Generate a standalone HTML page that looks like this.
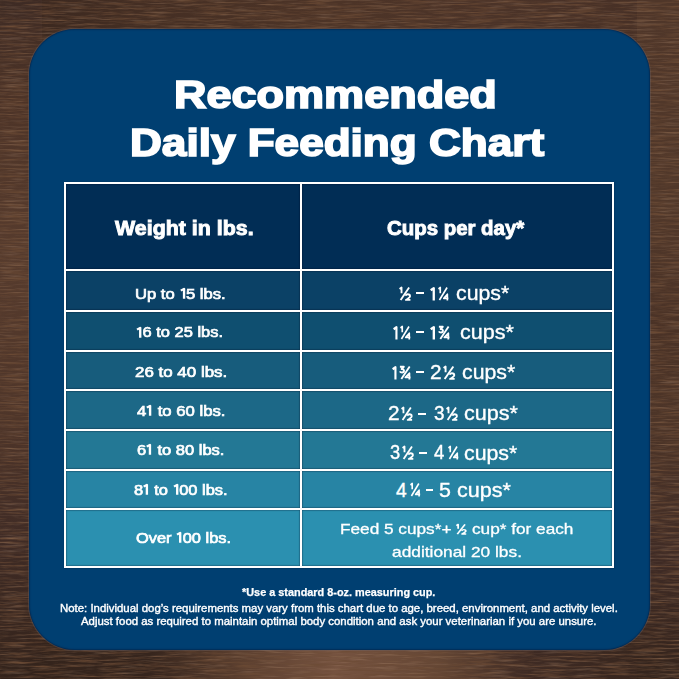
<!DOCTYPE html>
<html>
<head>
<meta charset="utf-8">
<style>
html,body{margin:0;padding:0;}
body{width:679px;height:679px;overflow:hidden;position:relative;font-family:"Liberation Sans",sans-serif;color:#fff;background:#56392a;}
#wood{position:absolute;left:0;top:0;width:679px;height:679px;background:#54392b;}
.ws{position:absolute;}
#wt{left:0;top:0;width:679px;height:42px;background:linear-gradient(90deg,#38261e 0px,#442e23 140px,#4d3427 330px,#4b3328 500px,#462f25 679px);}
#wb{left:0;top:637px;width:679px;height:42px;background:linear-gradient(90deg,#33231b 0px,#36251d 150px,#5a3e2e 240px,#765340 335px,#644634 440px,#3f2b24 525px,#34241c 679px);}
#wl{left:0;top:0;width:42px;height:679px;background:linear-gradient(180deg,#3e2b24 0px,#4c3327 100px,#563b2d 250px,#4e3529 420px,#3f2b25 540px,#33231b 679px);}
#wr{left:637px;top:0;width:42px;height:679px;background:linear-gradient(180deg,#4f3629 0px,#51382a 200px,#4a3226 330px,#4d3528 420px,#3f2b25 560px,#34241c 679px);}
#grain{position:absolute;left:0;top:0;}
#card{position:absolute;left:29px;top:29px;width:620.6px;height:620.6px;border-radius:46px;background:#003f71;box-shadow:inset 0 0 1.5px 0.5px rgba(0,10,40,0.55),0 0 0 1px rgba(110,100,105,0.35);}
.t{position:absolute;white-space:pre;line-height:1;transform-origin:0 0;color:#fff;}
#tbl{position:absolute;left:64px;top:182px;width:550px;height:386px;background:#fff;box-shadow:0 0 1.5px 0.5px rgba(0,8,30,0.45);}
.c{position:absolute;box-shadow:inset 0 0 1px 0.5px rgba(0,8,30,0.45);}
.s{position:absolute;overflow:visible;}

</style>
</head>
<body>
<div id="wood"><div class="ws" id="wt"></div><div class="ws" id="wb"></div><div class="ws" id="wl"></div><div class="ws" id="wr"></div></div>
<svg id="grain" width="679" height="679">
 <filter id="wf" x="0" y="0" width="100%" height="100%" filterUnits="userSpaceOnUse">
  <feTurbulence type="fractalNoise" baseFrequency="0.03 0.5" numOctaves="4" seed="7" result="n"/>
  <feColorMatrix in="n" type="matrix" values="0 0 0 0 0.15  0 0 0 0 0.07  0 0 0 0 0.035  -2.2 0 0 0 1.22"/>
 </filter>
 <filter id="wf2" x="0" y="0" width="100%" height="100%" filterUnits="userSpaceOnUse">
  <feTurbulence type="fractalNoise" baseFrequency="0.035 0.55" numOctaves="3" seed="21" result="n"/>
  <feColorMatrix in="n" type="matrix" values="0 0 0 0 0.52  0 0 0 0 0.33  0 0 0 0 0.21  0.7 0 0 0 -0.36"/>
 </filter>
 <rect width="679" height="679" filter="url(#wf)"/>
 <rect width="679" height="679" filter="url(#wf2)"/>
</svg>
<div id="card"></div>
<div id="tbl">
 <div class="c" style="left:2px;top:2px;width:234px;height:85px;background:#012d55"></div>
 <div class="c" style="left:238px;top:2px;width:310px;height:85px;background:#012d55"></div>
 <div class="c" style="left:2px;top:89px;width:234px;height:39px;background:#0b4166"></div>
 <div class="c" style="left:238px;top:89px;width:310px;height:39px;background:#0b4166"></div>
 <div class="c" style="left:2px;top:130px;width:234px;height:38px;background:#0f4f70"></div>
 <div class="c" style="left:238px;top:130px;width:310px;height:38px;background:#0f4f70"></div>
 <div class="c" style="left:2px;top:170px;width:234px;height:37px;background:#175c7c"></div>
 <div class="c" style="left:238px;top:170px;width:310px;height:37px;background:#175c7c"></div>
 <div class="c" style="left:2px;top:209px;width:234px;height:38px;background:#1c6887"></div>
 <div class="c" style="left:238px;top:209px;width:310px;height:38px;background:#1c6887"></div>
 <div class="c" style="left:2px;top:249px;width:234px;height:38px;background:#237895"></div>
 <div class="c" style="left:238px;top:249px;width:310px;height:38px;background:#237895"></div>
 <div class="c" style="left:2px;top:289px;width:234px;height:37px;background:#2784a4"></div>
 <div class="c" style="left:238px;top:289px;width:310px;height:37px;background:#2784a4"></div>
 <div class="c" style="left:2px;top:328px;width:234px;height:56px;background:#2b90b0"></div>
 <div class="c" style="left:238px;top:328px;width:310px;height:56px;background:#2b90b0"></div>
</div>

<div class="t" style="left:174.04px;top:76.43px;transform:scaleX(1.1789);font-weight:bold;font-size:38.2px;-webkit-text-stroke:1.7px #fff;">Recommended</div>
<div class="t" style="left:130.39px;top:124.33px;transform:scaleX(1.1549);font-weight:bold;font-size:38.2px;-webkit-text-stroke:1.7px #fff;">Daily Feeding Chart</div>
<div class="t" style="left:114.89px;top:219.14px;transform:scaleX(1.0913);font-weight:bold;font-size:19.6px;-webkit-text-stroke:0.9px #fff;">Weight in lbs.</div>
<div class="t" style="left:386.50px;top:219.24px;transform:scaleX(1.0414);font-weight:bold;font-size:19.6px;-webkit-text-stroke:0.9px #fff;">Cups per day*</div>
<div class="t" style="left:135.41px;top:285.78px;transform:scaleX(1.0926);font-weight:normal;font-size:15.2px;-webkit-text-stroke:0.7px #fff;">Up to <svg style="display:inline-block;width:0.40em;height:0.70em;vertical-align:0;overflow:visible" viewBox="0 0 5.6 10.6" preserveAspectRatio="none"><path d="M0.9,2.6 L3.6,0.75 L3.6,10.6" fill="none" stroke="#fff" stroke-width="2.0" stroke-linejoin="round"/></svg>5 lbs.</div>
<div class="t" style="left:136.42px;top:324.18px;transform:scaleX(1.0823);font-weight:normal;font-size:15.2px;-webkit-text-stroke:0.7px #fff;"><svg style="display:inline-block;width:0.40em;height:0.70em;vertical-align:0;overflow:visible" viewBox="0 0 5.6 10.6" preserveAspectRatio="none"><path d="M0.9,2.6 L3.6,0.75 L3.6,10.6" fill="none" stroke="#fff" stroke-width="2.0" stroke-linejoin="round"/></svg>6 to 25 lbs.</div>
<div class="t" style="left:135.00px;top:363.88px;transform:scaleX(1.1146);font-weight:normal;font-size:15.2px;-webkit-text-stroke:0.7px #fff;">26 to 40 lbs.</div>
<div class="t" style="left:137.00px;top:402.68px;transform:scaleX(1.1000);font-weight:normal;font-size:15.2px;-webkit-text-stroke:0.7px #fff;">4<svg style="display:inline-block;width:0.40em;height:0.70em;vertical-align:0;overflow:visible" viewBox="0 0 5.6 10.6" preserveAspectRatio="none"><path d="M0.9,2.6 L3.6,0.75 L3.6,10.6" fill="none" stroke="#fff" stroke-width="2.0" stroke-linejoin="round"/></svg> to 60 lbs.</div>
<div class="t" style="left:137.00px;top:442.08px;transform:scaleX(1.0875);font-weight:normal;font-size:15.2px;-webkit-text-stroke:0.7px #fff;">6<svg style="display:inline-block;width:0.40em;height:0.70em;vertical-align:0;overflow:visible" viewBox="0 0 5.6 10.6" preserveAspectRatio="none"><path d="M0.9,2.6 L3.6,0.75 L3.6,10.6" fill="none" stroke="#fff" stroke-width="2.0" stroke-linejoin="round"/></svg> to 80 lbs.</div>
<div class="t" style="left:134.20px;top:481.98px;transform:scaleX(1.0826);font-weight:normal;font-size:15.2px;-webkit-text-stroke:0.7px #fff;">8<svg style="display:inline-block;width:0.40em;height:0.70em;vertical-align:0;overflow:visible" viewBox="0 0 5.6 10.6" preserveAspectRatio="none"><path d="M0.9,2.6 L3.6,0.75 L3.6,10.6" fill="none" stroke="#fff" stroke-width="2.0" stroke-linejoin="round"/></svg> to <svg style="display:inline-block;width:0.40em;height:0.70em;vertical-align:0;overflow:visible" viewBox="0 0 5.6 10.6" preserveAspectRatio="none"><path d="M0.9,2.6 L3.6,0.75 L3.6,10.6" fill="none" stroke="#fff" stroke-width="2.0" stroke-linejoin="round"/></svg>00 lbs.</div>
<div class="t" style="left:136.00px;top:530.08px;transform:scaleX(1.0805);font-weight:normal;font-size:15.2px;-webkit-text-stroke:0.7px #fff;">Over <svg style="display:inline-block;width:0.40em;height:0.70em;vertical-align:0;overflow:visible" viewBox="0 0 5.6 10.6" preserveAspectRatio="none"><path d="M0.9,2.6 L3.6,0.75 L3.6,10.6" fill="none" stroke="#fff" stroke-width="2.0" stroke-linejoin="round"/></svg>00 lbs.</div>
<div class="t" style="left:339.55px;top:521.35px;transform:scaleX(1.1470);font-weight:normal;font-size:15.0px;-webkit-text-stroke:0.3px #fff;">Feed 5 cups*+ <svg style="display:inline-block;width:0.64em;height:0.70em;vertical-align:0;overflow:visible" viewBox="0 0 12 13.6" preserveAspectRatio="none"><g fill="none" stroke="#fff" stroke-width="1.9" stroke-linejoin="round"><path d="M0.55,2.0 L2.5,0.6 L2.5,6.3"/><path d="M10.0,0.6 L1.6,13.0"/><path d="M6.5,8.8 C6.7,7.8 7.5,7.3 8.6,7.3 C9.9,7.3 10.9,8.0 10.9,9.2 C10.9,10.3 10.0,11.0 6.8,12.95 L11.3,12.95"/></g></svg> cup* for each</div>
<div class="t" style="left:391.90px;top:544.45px;transform:scaleX(1.1545);font-weight:normal;font-size:15.0px;-webkit-text-stroke:0.3px #fff;">additional 20 lbs.</div>
<div class="t" style="left:242.30px;top:586.89px;transform:scaleX(0.9627);font-weight:bold;font-size:11.3px;-webkit-text-stroke:0.25px #fff;">*Use a standard 8-oz. measuring cup.</div>
<div class="t" style="left:60.02px;top:601.54px;transform:scaleX(0.9829);font-weight:normal;font-size:11.6px;-webkit-text-stroke:0.4px #fff;">Note: Individual dog’s requirements may vary from this chart due to age, breed, environment, and activity level.</div>
<div class="t" style="left:81.40px;top:615.34px;transform:scaleX(0.9839);font-weight:normal;font-size:11.6px;-webkit-text-stroke:0.4px #fff;">Adjust food as required to maintain optimal body condition and ask your veterinarian if you are unsure.</div>
<svg class="s" style="left:399.05px;top:286.70px;" width="12.15" height="13.6" viewBox="0 0 12.0 13.6" preserveAspectRatio="none"><g fill="none" stroke="#fff" stroke-width="1.85" stroke-linejoin="round"><path d="M0.55,2.0 L2.5,0.6 L2.5,6.3"/><path d="M10.0,0.6 L1.6,13.0"/><path d="M6.5,8.8 C6.7,7.8 7.5,7.3 8.6,7.3 C9.9,7.3 10.9,8.0 10.9,9.2 C10.9,10.3 10.0,11.0 6.8,12.95 L11.3,12.95"/></g></svg>
<div class="s" style="left:415.90px;top:292.30px;width:8.00px;height:2.1px;background:#fff"></div>
<svg class="s" style="left:430.30px;top:286.70px;" width="5.00" height="13.6" viewBox="0 0 5.0 13.6" preserveAspectRatio="none"><g fill="none" stroke="#fff" stroke-width="2.3" stroke-linejoin="round"><path d="M0.7,3.3 L3.75,1.1 L3.75,13.6"/></g></svg>
<svg class="s" style="left:438.00px;top:286.70px;" width="10.90" height="13.6" viewBox="0 0 12.0 13.6" preserveAspectRatio="none"><g fill="none" stroke="#fff" stroke-width="1.85" stroke-linejoin="round"><path d="M0.55,2.0 L2.5,0.6 L2.5,6.3"/><path d="M10.0,0.6 L1.6,13.0"/><path d="M10.3,13.6 L10.3,7.3 L6.4,11.4 L11.5,11.4"/></g></svg>
<div class="t" style="left:455.50px;top:283.05px;transform:scaleX(1.0490);font-weight:normal;font-size:20.3px;-webkit-text-stroke:0.35px #fff;">cups*</div>
<svg class="s" style="left:392.90px;top:325.80px;" width="4.60" height="13.6" viewBox="0 0 5.0 13.6" preserveAspectRatio="none"><g fill="none" stroke="#fff" stroke-width="2.3" stroke-linejoin="round"><path d="M0.7,3.3 L3.75,1.1 L3.75,13.6"/></g></svg>
<svg class="s" style="left:400.20px;top:325.80px;" width="10.80" height="13.6" viewBox="0 0 12.0 13.6" preserveAspectRatio="none"><g fill="none" stroke="#fff" stroke-width="1.85" stroke-linejoin="round"><path d="M0.55,2.0 L2.5,0.6 L2.5,6.3"/><path d="M10.0,0.6 L1.6,13.0"/><path d="M10.3,13.6 L10.3,7.3 L6.4,11.4 L11.5,11.4"/></g></svg>
<div class="s" style="left:415.90px;top:331.40px;width:8.00px;height:2.1px;background:#fff"></div>
<svg class="s" style="left:430.00px;top:325.80px;" width="5.10" height="13.6" viewBox="0 0 5.0 13.6" preserveAspectRatio="none"><g fill="none" stroke="#fff" stroke-width="2.3" stroke-linejoin="round"><path d="M0.7,3.3 L3.75,1.1 L3.75,13.6"/></g></svg>
<svg class="s" style="left:437.90px;top:325.80px;" width="12.00" height="13.6" viewBox="0 0 12.0 13.6" preserveAspectRatio="none"><g fill="none" stroke="#fff" stroke-width="1.85" stroke-linejoin="round"><path d="M0.9,0.75 L4.8,0.75 L2.6,3.0 C4.0,2.9 5.0,3.7 5.0,4.8 C5.0,5.8 4.1,6.5 3.0,6.5 C2.0,6.5 1.2,6.1 0.8,5.4"/><path d="M10.6,0.6 L2.3,13.0"/><path d="M10.3,13.6 L10.3,7.3 L6.4,11.4 L11.5,11.4"/></g></svg>
<div class="t" style="left:460.30px;top:322.14px;transform:scaleX(1.0627);font-weight:normal;font-size:20.3px;-webkit-text-stroke:0.35px #fff;">cups*</div>
<svg class="s" style="left:392.00px;top:365.80px;" width="4.60" height="13.6" viewBox="0 0 5.0 13.6" preserveAspectRatio="none"><g fill="none" stroke="#fff" stroke-width="2.3" stroke-linejoin="round"><path d="M0.7,3.3 L3.75,1.1 L3.75,13.6"/></g></svg>
<svg class="s" style="left:399.30px;top:365.80px;" width="12.10" height="13.6" viewBox="0 0 12.0 13.6" preserveAspectRatio="none"><g fill="none" stroke="#fff" stroke-width="1.85" stroke-linejoin="round"><path d="M0.9,0.75 L4.8,0.75 L2.6,3.0 C4.0,2.9 5.0,3.7 5.0,4.8 C5.0,5.8 4.1,6.5 3.0,6.5 C2.0,6.5 1.2,6.1 0.8,5.4"/><path d="M10.6,0.6 L2.3,13.0"/><path d="M10.3,13.6 L10.3,7.3 L6.4,11.4 L11.5,11.4"/></g></svg>
<div class="s" style="left:415.90px;top:371.40px;width:8.00px;height:2.1px;background:#fff"></div>
<div class="t" style="left:430.02px;top:363.00px;transform:scaleX(1.0778);font-weight:normal;font-size:19.3px;-webkit-text-stroke:0.35px #fff;">2</div>
<svg class="s" style="left:442.60px;top:365.80px;" width="12.40" height="13.6" viewBox="0 0 12.0 13.6" preserveAspectRatio="none"><g fill="none" stroke="#fff" stroke-width="1.85" stroke-linejoin="round"><path d="M0.55,2.0 L2.5,0.6 L2.5,6.3"/><path d="M10.0,0.6 L1.6,13.0"/><path d="M6.5,8.8 C6.7,7.8 7.5,7.3 8.6,7.3 C9.9,7.3 10.9,8.0 10.9,9.2 C10.9,10.3 10.0,11.0 6.8,12.95 L11.3,12.95"/></g></svg>
<div class="t" style="left:461.50px;top:362.14px;transform:scaleX(1.0490);font-weight:normal;font-size:20.3px;-webkit-text-stroke:0.35px #fff;">cups*</div>
<div class="t" style="left:388.02px;top:404.20px;transform:scaleX(1.0778);font-weight:normal;font-size:19.3px;-webkit-text-stroke:0.35px #fff;">2</div>
<svg class="s" style="left:401.20px;top:407.00px;" width="11.80" height="13.6" viewBox="0 0 12.0 13.6" preserveAspectRatio="none"><g fill="none" stroke="#fff" stroke-width="1.85" stroke-linejoin="round"><path d="M0.55,2.0 L2.5,0.6 L2.5,6.3"/><path d="M10.0,0.6 L1.6,13.0"/><path d="M6.5,8.8 C6.7,7.8 7.5,7.3 8.6,7.3 C9.9,7.3 10.9,8.0 10.9,9.2 C10.9,10.3 10.0,11.0 6.8,12.95 L11.3,12.95"/></g></svg>
<div class="s" style="left:418.00px;top:412.60px;width:8.20px;height:2.1px;background:#fff"></div>
<div class="t" style="left:433.50px;top:404.20px;transform:scaleX(0.9800);font-weight:normal;font-size:19.3px;-webkit-text-stroke:0.35px #fff;">3</div>
<svg class="s" style="left:446.10px;top:407.00px;" width="12.00" height="13.6" viewBox="0 0 12.0 13.6" preserveAspectRatio="none"><g fill="none" stroke="#fff" stroke-width="1.85" stroke-linejoin="round"><path d="M0.55,2.0 L2.5,0.6 L2.5,6.3"/><path d="M10.0,0.6 L1.6,13.0"/><path d="M6.5,8.8 C6.7,7.8 7.5,7.3 8.6,7.3 C9.9,7.3 10.9,8.0 10.9,9.2 C10.9,10.3 10.0,11.0 6.8,12.95 L11.3,12.95"/></g></svg>
<div class="t" style="left:463.80px;top:403.35px;transform:scaleX(1.0627);font-weight:normal;font-size:20.3px;-webkit-text-stroke:0.35px #fff;">cups*</div>
<div class="t" style="left:389.80px;top:443.39px;transform:scaleX(0.9500);font-weight:normal;font-size:19.3px;-webkit-text-stroke:0.35px #fff;">3</div>
<svg class="s" style="left:402.10px;top:446.20px;" width="12.00" height="13.6" viewBox="0 0 12.0 13.6" preserveAspectRatio="none"><g fill="none" stroke="#fff" stroke-width="1.85" stroke-linejoin="round"><path d="M0.55,2.0 L2.5,0.6 L2.5,6.3"/><path d="M10.0,0.6 L1.6,13.0"/><path d="M6.5,8.8 C6.7,7.8 7.5,7.3 8.6,7.3 C9.9,7.3 10.9,8.0 10.9,9.2 C10.9,10.3 10.0,11.0 6.8,12.95 L11.3,12.95"/></g></svg>
<div class="s" style="left:419.20px;top:451.80px;width:7.60px;height:2.1px;background:#fff"></div>
<div class="t" style="left:434.00px;top:443.39px;transform:scaleX(0.9636);font-weight:normal;font-size:19.3px;-webkit-text-stroke:0.35px #fff;">4</div>
<svg class="s" style="left:447.50px;top:446.20px;" width="10.80" height="13.6" viewBox="0 0 12.0 13.6" preserveAspectRatio="none"><g fill="none" stroke="#fff" stroke-width="1.85" stroke-linejoin="round"><path d="M0.55,2.0 L2.5,0.6 L2.5,6.3"/><path d="M10.0,0.6 L1.6,13.0"/><path d="M10.3,13.6 L10.3,7.3 L6.4,11.4 L11.5,11.4"/></g></svg>
<div class="t" style="left:464.40px;top:442.55px;transform:scaleX(1.0510);font-weight:normal;font-size:20.3px;-webkit-text-stroke:0.35px #fff;">cups*</div>
<div class="t" style="left:396.10px;top:480.50px;transform:scaleX(1.0000);font-weight:normal;font-size:19.3px;-webkit-text-stroke:0.35px #fff;">4</div>
<svg class="s" style="left:410.20px;top:483.30px;" width="10.60" height="13.6" viewBox="0 0 12.0 13.6" preserveAspectRatio="none"><g fill="none" stroke="#fff" stroke-width="1.85" stroke-linejoin="round"><path d="M0.55,2.0 L2.5,0.6 L2.5,6.3"/><path d="M10.0,0.6 L1.6,13.0"/><path d="M10.3,13.6 L10.3,7.3 L6.4,11.4 L11.5,11.4"/></g></svg>
<div class="s" style="left:425.60px;top:488.90px;width:7.70px;height:2.1px;background:#fff"></div>
<div class="t" style="left:439.29px;top:480.50px;transform:scaleX(1.1111);font-weight:normal;font-size:19.3px;-webkit-text-stroke:0.35px #fff;">5</div>
<div class="t" style="left:456.80px;top:479.64px;transform:scaleX(1.0627);font-weight:normal;font-size:20.3px;-webkit-text-stroke:0.35px #fff;">cups*</div>
</body>
</html>
